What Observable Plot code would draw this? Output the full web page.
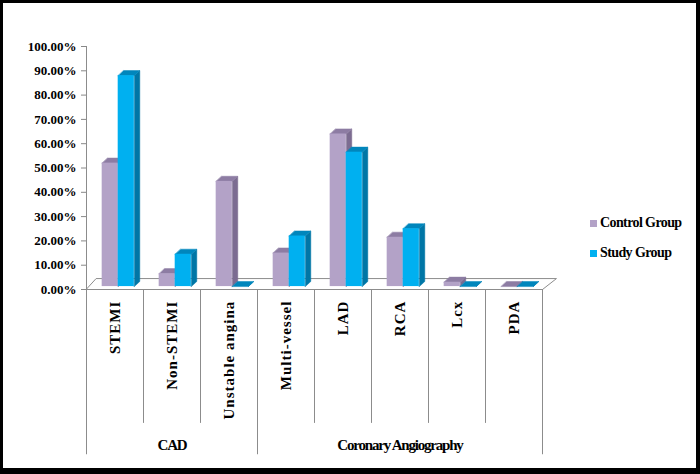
<!DOCTYPE html>
<html><head><meta charset="utf-8">
<script src="https://cdn.jsdelivr.net/npm/d3@7"></script>
<script src="https://cdn.jsdelivr.net/npm/@observablehq/plot@0.6"></script>
<style>
body{margin:0;background:#fff;}
#frame{position:relative;width:700px;height:474px;box-sizing:border-box;border-style:solid;border-color:#000;border-width:3px 4px 6px 3px;background:#fff;overflow:hidden;}
#chart svg{display:block;}
#chart svg, #chart svg text{font-family:"Liberation Serif","Times New Roman",Tinos,"DejaVu Serif",serif !important;}
#legend{position:absolute;left:587px;top:205px;font-family:"Liberation Serif","Times New Roman",Tinos,"DejaVu Serif",serif;font-weight:bold;font-size:14px;letter-spacing:-0.6px;color:#000;}
.item{display:flex;align-items:center;height:30px}
.sw{width:7px;height:7px;margin-right:3px}
g[aria-description="cat-labels"] text{letter-spacing:1px}
g[aria-description="group-labels"] text{letter-spacing:-1.2px}
g[aria-label="y-axis tick"] path{stroke:#888}
</style></head><body><div id="frame"><div id="chart"></div><div id="legend"></div></div>
<script>
const categories = ["STEMI","Non-STEMI","Unstable angina","Multi-vessel","LAD","RCA","Lcx","PDA"];
const groupOf = ["CAD","CAD","CAD","Coronary Angiography","Coronary Angiography","Coronary Angiography","Coronary Angiography","Coronary Angiography"];
const seriesNames = ["Control Group","Study Group"];
const controlValues = [52,6.5,44.5,15,64,21.5,3,0.5];
const studyValues = [88,14.5,0,22,56.5,25,0,0];
const yTicks = [0,10,20,30,40,50,60,70,80,90,100];

const frontColors = ["#B3A2C7","#00B0F0"];
const topColors = ["#8D7CA3","#0086BC"];
const sideColors = ["#7C6C91","#0076A6"];

// geometry in data units
const barOffset = [0.275,0.556], barW = 0.283, depthX = 0.096, depthY = 2.1, base = 1.2;

const seriesValues = [controlValues, studyValues];
const bars = [];
seriesValues.forEach((vals, s) => vals.forEach((v, i) => {
  const x1 = i + barOffset[s], x2 = x1 + barW;
  bars.push({s, i, v, x1, x2});
}));
function faces(s, kind){
  const pts = [];
  bars.filter(b => b.s === s).forEach(b => {
    const id = b.i;
    const v = Math.max(b.v, base);
    const poly = kind === "top"
      ? [[b.x1,v],[b.x2,v],[b.x2+depthX,v+depthY],[b.x1+depthX,v+depthY]]
      : [[b.x2,base],[b.x2+depthX,base+depthY],[b.x2+depthX,v+depthY],[b.x2,v]];
    poly.forEach(([x,y]) => pts.push({id, x, y}));
  });
  return pts;
}
const floor = [{x:0,y:0},{x:8,y:0},{x:8.245,y:4.5},{x:0.175,y:4.5}];

const groupNames = [...new Set(groupOf)];
const groupSpans = groupNames.map(g => {
  const idx = groupOf.map((d,i)=>d===g?i:-1).filter(i=>i>=0);
  return {g, start: idx[0], end: idx[idx.length-1]+1, mid: (idx[0]+idx[idx.length-1]+1)/2};
});
const groupBounds = [...new Set(groupSpans.flatMap(d=>[d.start,d.end]))];
const catBounds = d3.range(1, categories.length).filter(b => !groupBounds.includes(b));

const marks = [
  Plot.line(floor, {x:"x", y:"y", curve:"linear-closed", stroke:"#8c8c8c", strokeWidth:1, fill:"none"}),
  Plot.ruleX([0], {y1:0, y2:100, stroke:"#8c8c8c"}),
  Plot.ruleX(catBounds, {y1:0, y2:-55.1, stroke:"#8c8c8c"}),
  Plot.ruleX(groupBounds, {y1:0, y2:-68, stroke:"#8c8c8c"}),
];
[0,1].forEach(s => {
  marks.push(Plot.line(faces(s,"side"), {x:"x", y:"y", z:"id", curve:"linear-closed", fill:sideColors[s], stroke:sideColors[s], strokeWidth:0.5}));
  marks.push(Plot.line(faces(s,"top"), {x:"x", y:"y", z:"id", curve:"linear-closed", fill:topColors[s], stroke:topColors[s], strokeWidth:0.5}));
  marks.push(Plot.rectY(bars.filter(b=>b.s===s && b.v>base), {x1:"x1", x2:"x2", y1:base, y2:"v", fill:frontColors[s]}));
});
marks.push(
  Plot.axisY(yTicks, {tickFormat: d => d.toFixed(2)+"%", tickSize:5, tickPadding:5, fontSize:13, fontWeight:"bold", label:null}),
  Plot.text(categories, {x:(d,i)=>i+0.5, y:-4.6, text:d=>d, rotate:-90, textAnchor:"end", fontSize:15, fontWeight:"bold", fill:"#000", ariaDescription:"cat-labels"}),
  Plot.text(groupSpans, {x:"mid", y:-64.2, text:"g", fontSize:15, fontWeight:"bold", fill:"#000", ariaDescription:"group-labels"})
);

const chart = Plot.plot({
  width:693, height:465,
  marginLeft:83, marginRight:154, marginTop:43, marginBottom:0,
  x:{domain:[0,8], axis:null},
  y:{domain:[-73.66,100], axis:null},
  style:{background:"#fff", color:"#000"},
  marks
});
document.getElementById("chart").appendChild(chart);

const legend = d3.select("#legend");
seriesNames.forEach((n, s) => {
  const it = legend.append("div").attr("class","item");
  it.append("div").attr("class","sw").style("background", frontColors[s]);
  it.append("span").text(n);
});
</script></body></html>
